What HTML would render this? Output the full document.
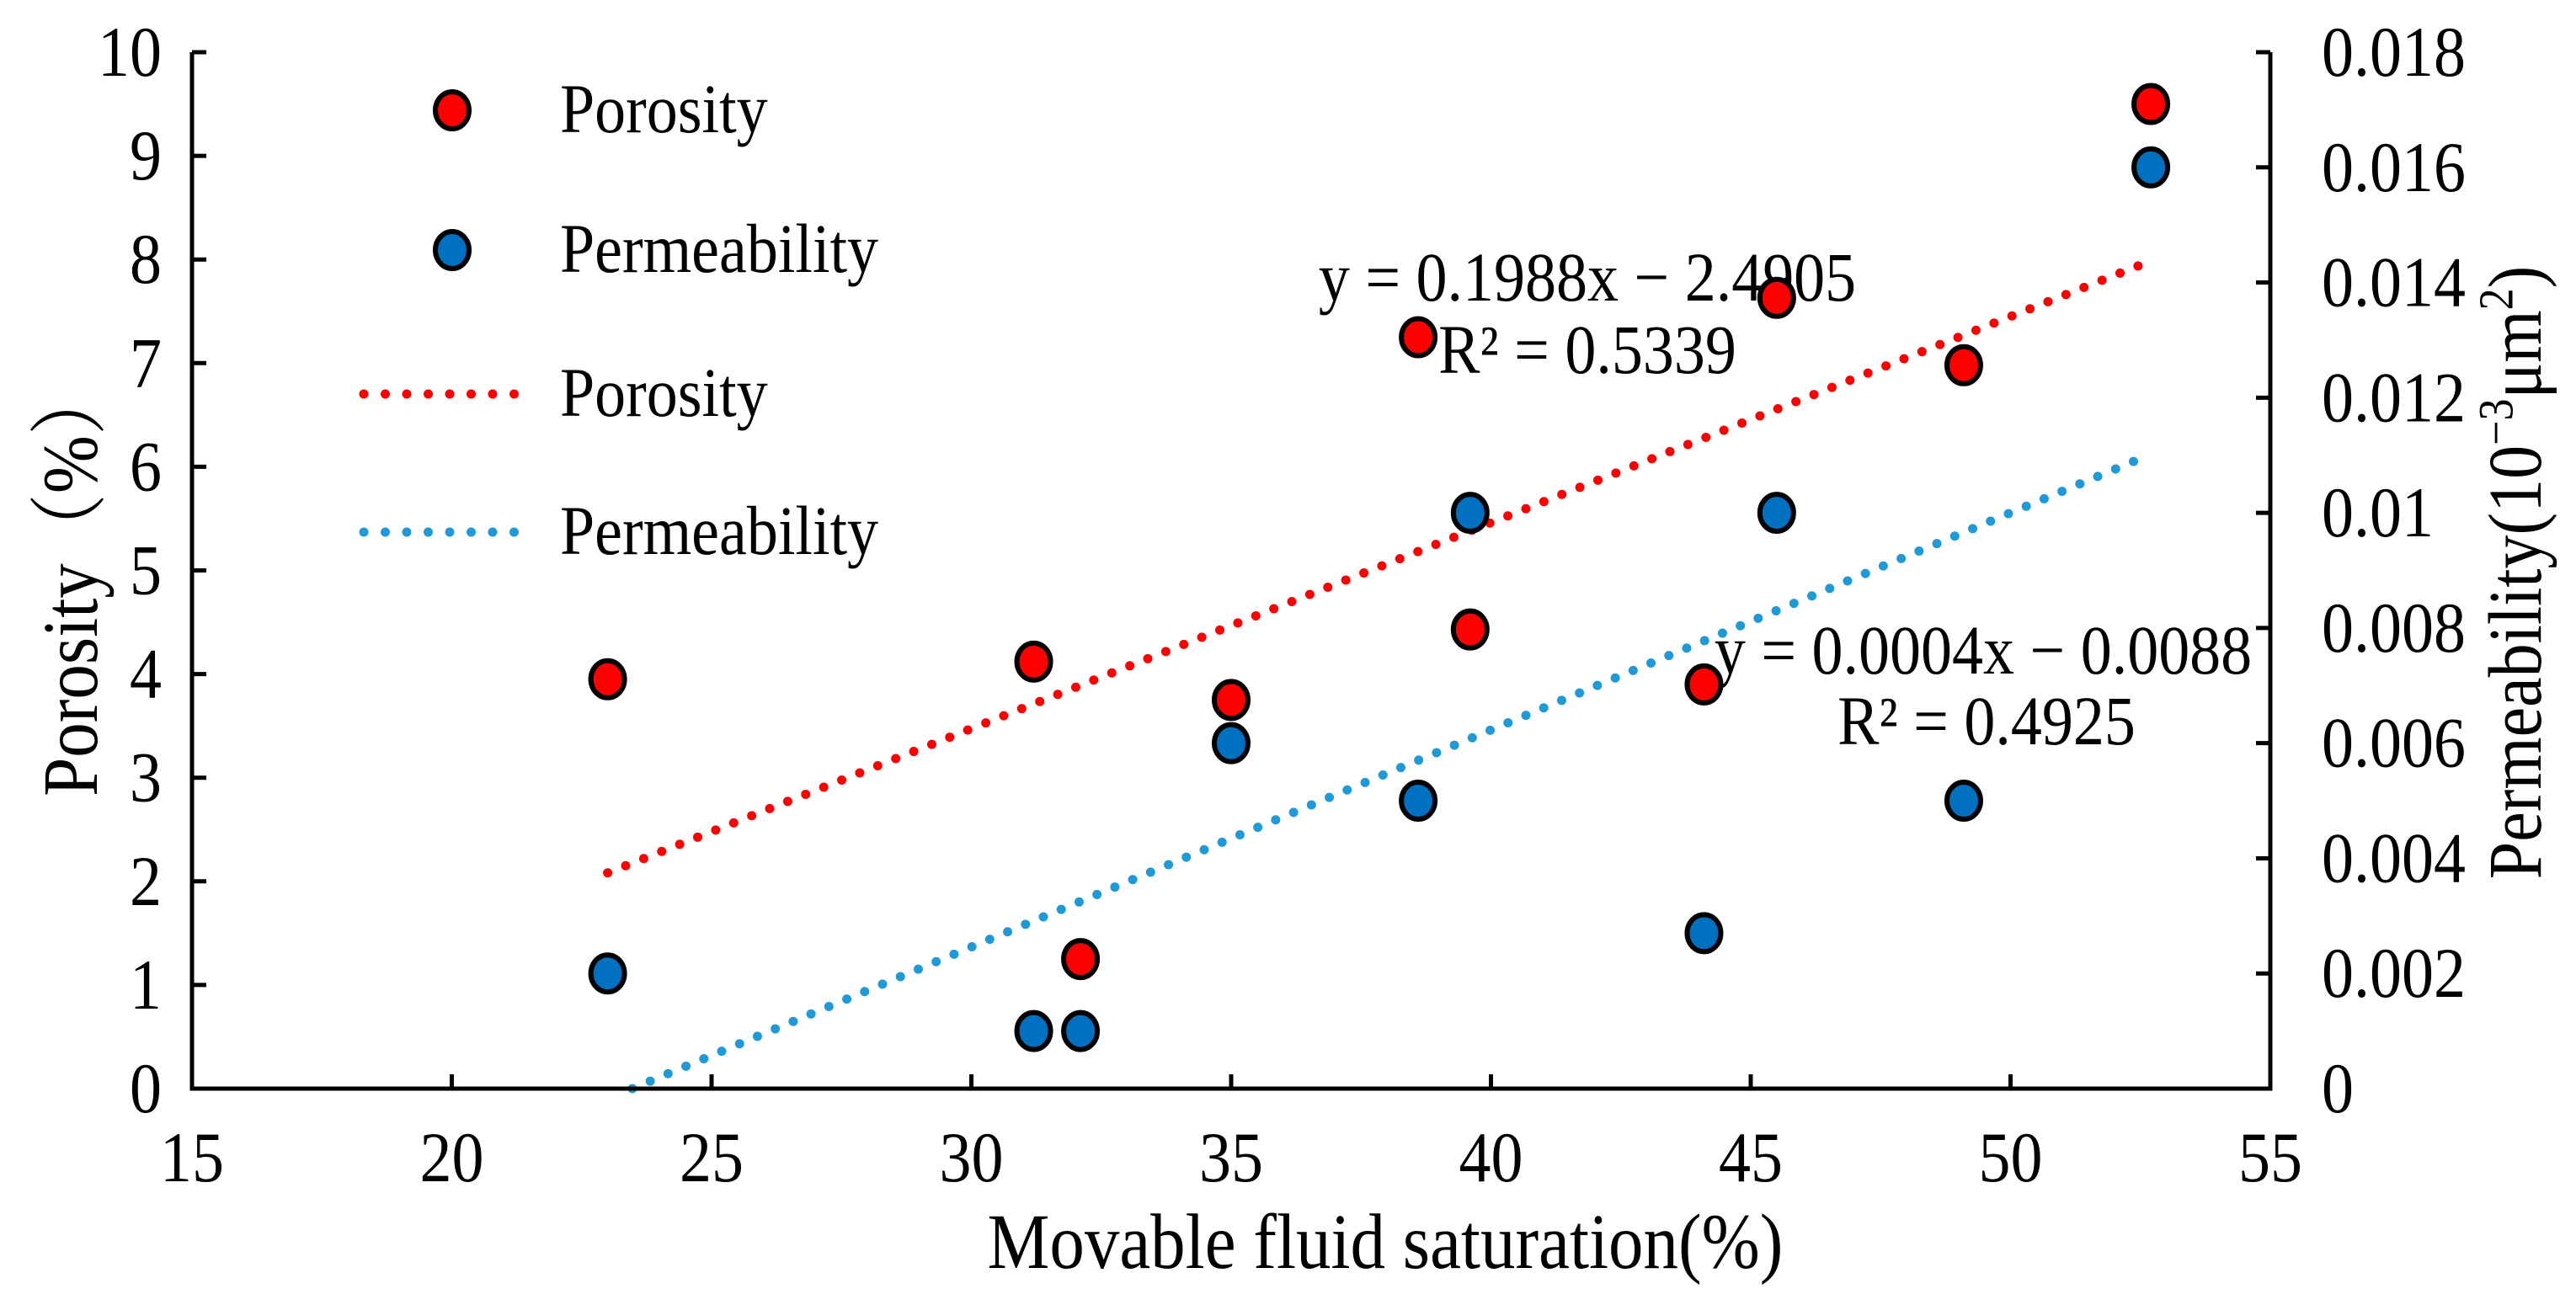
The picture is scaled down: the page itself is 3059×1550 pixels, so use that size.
<!DOCTYPE html>
<html><head><meta charset="utf-8"><style>
html,body{margin:0;padding:0;background:#fff;}
svg{display:block;font-family:"Liberation Serif","Noto Serif CJK SC",serif;}
</style></head><body>
<svg id="chart" width="3059" height="1550" viewBox="0 0 3059 1550" xmlns="http://www.w3.org/2000/svg">
<g id="texts"></g>
<g id="trend"></g>
<g id="axes"></g>
<g id="marks"></g>
</svg>
<script>
const xValues = [23.0, 31.2, 32.1, 35.0, 38.6, 39.6, 44.1, 45.5, 49.1, 52.7];
const porosity = [3.95, 4.12, 1.25, 3.75, 7.25, 4.43, 3.9, 7.63, 6.98, 9.5];
const permX = [23.0, 31.2, 32.1, 35.0, 38.6, 39.6, 44.1, 45.5, 49.1, 52.7];
const permeability = [0.002, 0.001, 0.001, 0.006, 0.005, 0.01, 0.0027, 0.01, 0.005, 0.016];
const porosityFit = [0.1988, -2.4905];
const permFit = [0.000377, -0.00885];
const fitRange = [23.0, 52.7];
const xTicks = [15, 20, 25, 30, 35, 40, 45, 50, 55];
const yLeftTicks = [0,1,2,3,4,5,6,7,8,9,10];
const yRightTicks = [0,0.002,0.004,0.006,0.008,0.01,0.012,0.014,0.016,0.018];
const yRightLabels = ["0","0.002","0.004","0.006","0.008","0.01","0.012","0.014","0.016","0.018"];

const NS = "http://www.w3.org/2000/svg";
const L = 228, R = 2696, T = 62, B = 1293;
const FS = 76;
const sx = v => L + (v - 15) / 40 * (R - L);
const syL = v => B - v / 10 * (B - T);
const syR = v => B - v / 0.018 * (B - T);
function mk(tag, attrs, parent, txt) {
  const e = document.createElementNS(NS, tag);
  for (const k in attrs) e.setAttribute(k, attrs[k]);
  if (txt !== undefined) e.textContent = txt;
  parent.appendChild(e);
  return e;
}
function txt(parent, x, y, s, size, anchor) {
  const t = mk('text', {x:0, y:0, 'font-size':size, 'text-anchor':anchor, transform:`translate(${x},${y}) scale(1,1.12)`}, parent, s);
  return t;
}
const axes = document.getElementById('axes');
const marks = document.getElementById('marks');
const trend = document.getElementById('trend');
const texts = document.getElementById('texts');

let a = mk('path', {d:`M${L},${T} L${L},${B} L${R},${B} L${R},${T}`, fill:'none', stroke:'#000', 'stroke-width':5}, axes);



xTicks.forEach(t => {
  const x = sx(t);
  let tk = mk('line', {x1:x, x2:x, y1:B, y2:B-17, stroke:'#000', 'stroke-width':5}, axes);
  
  
  let lb = txt(axes, x, 1403, String(t), FS, 'middle');
  
  
});
yLeftTicks.forEach(t => {
  const y = syL(t);
  let tk = mk('line', {x1:L, x2:L+17, y1:y, y2:y, stroke:'#000', 'stroke-width':5}, axes);
  
  
  let lb = txt(axes, 192, y+28, String(t), FS, 'end');
  
  
});
yRightTicks.forEach((t, i) => {
  const y = syR(t);
  let tk = mk('line', {x1:R, x2:R-17, y1:y, y2:y, stroke:'#000', 'stroke-width':5}, axes);
  
  
  let lb = txt(axes, 2757, y+28, yRightLabels[i], FS, 'start');
  
  
});
let xt = txt(axes, 1645, 1506, 'Movable fluid saturation(%)', 83, 'middle');


let ylt = mk('text', {x:0, y:0, 'font-size':83, 'text-anchor':'middle', transform:'translate(115,690) rotate(-90) scale(1,1.12)'}, axes, 'Porosity（%）');


let yrt = mk('text', {x:0, y:0, 'font-size':80, 'text-anchor':'middle', transform:'translate(3017,680) rotate(-90) scale(1,1.12)'}, axes);


yrt.innerHTML = 'Permeability(10<tspan dy="-30" font-size="52">−3</tspan><tspan dy="30">μm</tspan><tspan dy="-30" font-size="52">2</tspan><tspan dy="30">)</tspan>';

function trendLine(fit, sy, color, name) {
  let x0 = fitRange[0], x1 = fitRange[1];
  const xz = -fit[1] / fit[0];
  if (x0 < xz) x0 = xz;
  const ln = mk('line', {x1:sx(x0), y1:sy(fit[0]*x0+fit[1]), x2:sx(x1), y2:sy(fit[0]*x1+fit[1]), stroke:color, 'stroke-width':11, 'stroke-linecap':'round', 'stroke-dasharray':'0 23'}, trend);
  
  
}
trendLine(porosityFit, syL, '#ff0000', 'porosity-trendline');
trendLine(permFit, syR, '#1f9ad8', 'permeability-trendline');

[['y = 0.1988x − 2.4905', 1885, 357, 'porosity-equation'], ['R² = 0.5339', 1885, 443, 'porosity-r-squared'],
 ['y = 0.0004x − 0.0088', 2355, 800, 'permeability-equation'], ['R² = 0.4925', 2359, 884, 'permeability-r-squared']].forEach(d => {
  const t = txt(texts, d[1], d[2], d[0], 74, 'middle');
  
  
});

xValues.forEach((x, i) => {
  const c = mk('ellipse', {cx:sx(x), cy:syL(porosity[i]), rx:20, ry:22, fill:'#ff0000', stroke:'#000', 'stroke-width':6}, marks);
  
  
});
permX.forEach((x, i) => {
  const c = mk('ellipse', {cx:sx(x), cy:syR(permeability[i]), rx:20, ry:22, fill:'#0070c0', stroke:'#000', 'stroke-width':6}, marks);
  
  
});

const lg = mk('g', {}, axes);


[[131,'#ff0000','Porosity'],[297,'#0070c0','Permeability']].forEach(d => {
  const m = mk('ellipse', {cx:537, cy:d[0], rx:20, ry:22, fill:d[1], stroke:'#000', 'stroke-width':6}, lg);
  
  
  const t = txt(lg, 665, d[0]+26, d[2], 74, 'start');
  
  
});
[[468,'#ff0000','Porosity'],[632,'#1f9ad8','Permeability']].forEach(d => {
  const m = mk('line', {x1:432, x2:636, y1:d[0], y2:d[0], stroke:d[1], 'stroke-width':11, 'stroke-linecap':'round', 'stroke-dasharray':'0 25.5'}, lg);
  
  
  const t = txt(lg, 665, d[0]+26, d[2], 74, 'start');
  
  
});
</script>
</body></html>
